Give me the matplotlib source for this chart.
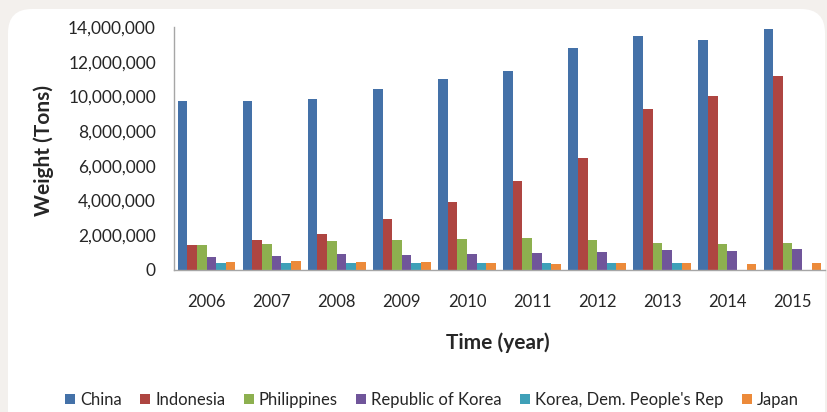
import numpy as np
import matplotlib
matplotlib.use("Agg")
import matplotlib.pyplot as plt
from matplotlib.patches import FancyBboxPatch
from matplotlib.ticker import FuncFormatter

years = ["2006", "2007", "2008", "2009", "2010", "2011", "2012", "2013", "2014", "2015"]
countries = ["China", "Indonesia", "Philippines", "Republic of Korea",
             "Korea, Dem. People's Rep", "Japan"]

# tons
china = [9720000, 9720000, 9870000, 10420000, 11030000, 11450000, 12780000, 13490000, 13260000, 13870000]
indonesia = [1440000, 1720000, 2100000, 2950000, 3890000, 5150000, 6480000, 9270000, 10040000, 11190000]
philippines = [1440000, 1510000, 1670000, 1720000, 1780000, 1840000, 1740000, 1570000, 1510000, 1570000]
rep_korea = [750000, 800000, 920000, 860000, 920000, 980000, 1030000, 1150000, 1090000, 1210000]
dpr_korea = [420000, 420000, 420000, 420000, 420000, 420000, 420000, 420000, 0, 0]
japan = [480000, 530000, 480000, 470000, 420000, 360000, 420000, 420000, 360000, 420000]

series = [china, indonesia, philippines, rep_korea, dpr_korea, japan]
colors = ["#4471a8", "#ae4541", "#8db04f", "#70559a", "#3fa0b8", "#ec8a3a"]

plt.rcParams['font.family'] = ['Lato', 'DejaVu Sans']
text_col = "#262626"

fig = plt.figure(figsize=(8.27, 4.12), dpi=100)
fig.patch.set_facecolor("#f3f0ed")
# white rounded panel (pixel coords)
panel = FancyBboxPatch((8, -30), 817, 412 - 9 + 30, boxstyle="round,pad=0,rounding_size=24",
                       transform=None, facecolor="white", edgecolor="none", zorder=-5)
fig.patches.append(panel)

ax = fig.add_axes([174 / 827, 1 - 270 / 412, 651 / 827, 243 / 412])
ax.set_facecolor("none")

x = np.arange(len(years))
w = 0.148
n = len(series)
for i, (vals, c, name) in enumerate(zip(series, colors, countries)):
    offs = (i - (n - 1) / 2) * w
    ax.bar(x + offs, vals, width=w, color=c, label=name, zorder=2)

ax.set_xlim(-0.5, len(years) - 0.5)
ax.set_ylim(0, 14000000)
ax.set_yticks(np.arange(0, 14000001, 2000000))
ax.yaxis.set_major_formatter(FuncFormatter(lambda v, p: f"{int(v):,}"))
ax.set_xticks(x)
ax.set_xticklabels(years)

for s in ["top", "right"]:
    ax.spines[s].set_visible(False)
for s in ["left", "bottom"]:
    ax.spines[s].set_color("#a6a6a6")
    ax.spines[s].set_linewidth(1.0)

ax.tick_params(axis="y", length=0, pad=13, labelsize=12.5, labelcolor=text_col)
ax.tick_params(axis="x", length=0, pad=17, labelsize=12, labelcolor=text_col)

fig.text(44 / 827, 1 - 150 / 412, "Weight (Tons)", fontsize=15, fontweight="bold",
         color=text_col, ha="center", va="center", rotation=90)
fig.text(498 / 827, 1 - 343 / 412, "Time (year)", fontsize=15, fontweight="bold",
         color=text_col, ha="center", va="center")

fig.legend(loc="center", bbox_to_anchor=(432 / 827, 1 - 400 / 412), ncol=6, frameon=False,
           fontsize=12, handlelength=0.6, handleheight=0.6, handletextpad=0.3,
           columnspacing=1.1, labelcolor=text_col)

fig.savefig("out.png", dpi=100, facecolor=fig.get_facecolor())
